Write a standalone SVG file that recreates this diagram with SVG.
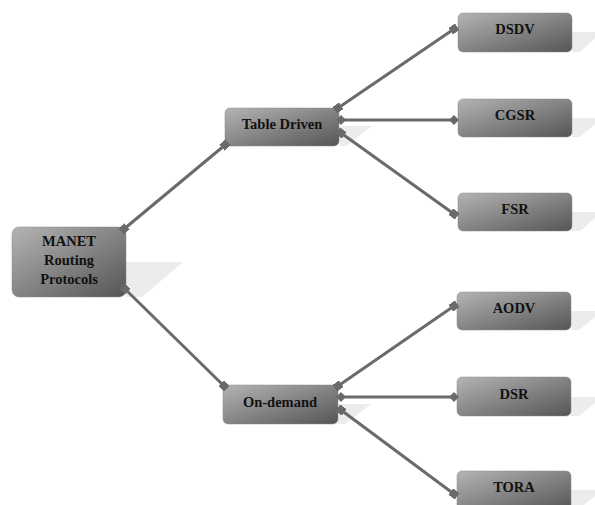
<svg xmlns="http://www.w3.org/2000/svg" width="595" height="505" viewBox="0 0 595 505">
<defs>
<linearGradient id="g" x1="0" y1="0" x2="1" y2="1">
<stop offset="0" stop-color="#b4b4b4"/>
<stop offset="1" stop-color="#555555"/>
</linearGradient>
<marker id="sq" viewBox="0 0 8 8" refX="4" refY="4" markerWidth="8" markerHeight="8" markerUnits="userSpaceOnUse" orient="auto">
<rect x="0" y="0" width="8" height="8" fill="#6a6a6a"/>
</marker>
<marker id="dm" viewBox="0 0 10 10" refX="5" refY="5" markerWidth="10" markerHeight="10" markerUnits="userSpaceOnUse" orient="auto">
<path d="M0,5 L5,0 L10,5 L5,10 Z" fill="#6a6a6a"/>
</marker>
</defs>
<style>
.box{fill:url(#g);stroke:#8a8a8a;stroke-width:0.5}
.sh{fill:#ececec}
.t{font-family:"Liberation Serif","Times New Roman",serif;font-weight:bold;font-size:14.5px;fill:#111;text-anchor:middle}
.c{stroke:#6a6a6a;stroke-width:3;fill:none;marker-start:url(#sq);marker-end:url(#sq)}
.h{stroke:#6a6a6a;stroke-width:3;fill:none;marker-start:url(#dm);marker-end:url(#dm)}
</style>
<rect width="595" height="505" fill="#ffffff"/>
<g id="manet">
<polygon class="sh" points="126,262 183,262 142,297 126,297"/>
<rect class="box" x="12" y="227" width="114" height="70" rx="7"/>
<text class="t" x="69" y="246">MANET</text>
<text class="t" x="69" y="265">Routing</text>
<text class="t" x="69" y="284">Protocols</text>
</g>
<g id="table-driven">
<polygon class="sh" points="339,126 372,126 346,146 339,146"/>
<rect class="box" x="225" y="108" width="114" height="38" rx="5"/>
<text class="t" x="282" y="129">Table Driven</text>
</g>
<g id="on-demand">
<polygon class="sh" points="338,404 371,404 345,424 338,424"/>
<rect class="box" x="223" y="385" width="115" height="39" rx="5"/>
<text class="t" x="280" y="407">On-demand</text>
</g>
<g id="dsdv">
<polygon class="sh" points="572,32 595,32 595,38 580,52 572,52"/>
<rect class="box" x="458" y="13" width="114" height="39" rx="5"/>
<text class="t" x="515" y="34">DSDV</text>
</g>
<g id="cgsr">
<polygon class="sh" points="572,118 595,118 595,124 580,137 572,137"/>
<rect class="box" x="458" y="99" width="114" height="38" rx="5"/>
<text class="t" x="515" y="120">CGSR</text>
</g>
<g id="fsr">
<polygon class="sh" points="572,212 595,212 595,218 580,231 572,231"/>
<rect class="box" x="458" y="193" width="114" height="38" rx="5"/>
<text class="t" x="515" y="214">FSR</text>
</g>
<g id="aodv">
<polygon class="sh" points="571,311 595,311 595,317 579,330 571,330"/>
<rect class="box" x="457" y="292" width="114" height="38" rx="5"/>
<text class="t" x="514" y="313">AODV</text>
</g>
<g id="dsr">
<polygon class="sh" points="571,397 595,397 595,403 579,416 571,416"/>
<rect class="box" x="457" y="377" width="114" height="39" rx="5"/>
<text class="t" x="514" y="399">DSR</text>
</g>
<g id="tora">
<polygon class="sh" points="571,490 595,490 595,496 579,509 571,509"/>
<rect class="box" x="457" y="471" width="114" height="40" rx="5"/>
<text class="t" x="514" y="492">TORA</text>
</g>
<g id="connectors">
<line class="c" x1="124" y1="229" x2="225" y2="145"/>
<line class="c" x1="125" y1="289" x2="224" y2="386"/>
<line class="c" x1="338" y1="108" x2="454" y2="29"/>
<line class="h" x1="341" y1="120" x2="454" y2="120"/>
<line class="c" x1="341" y1="133" x2="454" y2="214"/>
<line class="c" x1="338" y1="386" x2="454" y2="306"/>
<line class="h" x1="341" y1="397" x2="454" y2="397"/>
<line class="c" x1="341" y1="410" x2="454" y2="494"/>
</g>
</svg>
